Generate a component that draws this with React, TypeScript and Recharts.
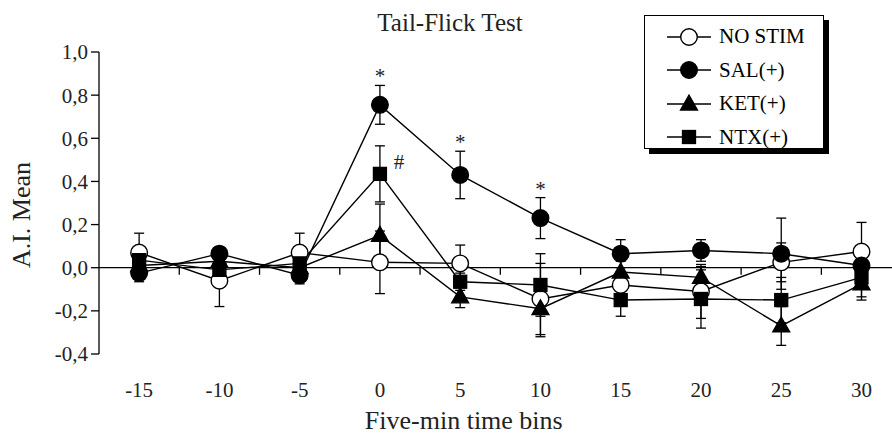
import React from "react";
import {
  LineChart,
  Line,
  XAxis,
  YAxis,
  ErrorBar,
  ReferenceLine,
  Legend,
  LabelList,
  Label,
} from "recharts";

const FONT = "'Liberation Serif', 'Times New Roman', serif";

// five-minute bins
const bins = [-15, -10, -5, 0, 5, 10, 15, 20, 25, 30];
const yTicks = [-0.4, -0.2, 0, 0.2, 0.4, 0.6, 0.8, 1.0];
const midTicks = [-12.5, -7.5, -2.5, 2.5, 7.5, 12.5, 17.5, 22.5, 27.5];

const noStim = [0.07, -0.06, 0.07, 0.025, 0.02, -0.145, -0.08, -0.11, 0.025, 0.075];
const noStimErr = [0.09, 0.12, 0.09, 0.145, 0.085, 0.165, 0.06, 0.125, 0.09, 0.135];

const sal = [-0.025, 0.065, -0.035, 0.755, 0.43, 0.23, 0.065, 0.08, 0.065, 0.01];
const salErr = [0.04, 0.03, 0.04, 0.09, 0.11, 0.095, 0.065, 0.05, 0.165, 0.05];

const ket = [0.01, 0.03, 0.0, 0.15, -0.135, -0.19, -0.02, -0.045, -0.27, -0.075];
const ketErr = [0.03, 0.03, 0.03, 0.145, 0.05, 0.13, 0.05, 0.05, 0.09, 0.075];

const ntx = [0.035, -0.01, 0.02, 0.435, -0.065, -0.08, -0.15, -0.145, -0.15, -0.045];
const ntxErr = [0.03, 0.03, 0.03, 0.13, 0.04, 0.145, 0.075, 0.135, 0.105, 0.09];

// significance marks
const salNote = ["", "", "", "*", "*", "*", "", "", "", ""];
const ntxNote = ["", "", "", "#", "", "", "", "", "", ""];

const series = [
  { key: "noStim", name: "NO STIM", shape: "circle", fill: "#fff" },
  { key: "sal", name: "SAL(+)", shape: "circle", fill: "#000" },
  { key: "ket", name: "KET(+)", shape: "triangle", fill: "#000" },
  { key: "ntx", name: "NTX(+)", shape: "square", fill: "#000" },
];

const data = bins.map((t, i) => ({
  t,
  noStim: noStim[i],
  sal: sal[i],
  ket: ket[i],
  ntx: ntx[i],
  noStimErr: noStimErr[i],
  salErr: salErr[i],
  ketErr: ketErr[i],
  ntxErr: ntxErr[i],
  salTop: salNote[i] ? sal[i] + salErr[i] : null,
  salNote: salNote[i],
  ntxNote: ntxNote[i],
}));

function Marker({ cx, cy, shape, fill }: any) {
  if (cx == null || cy == null) return null;
  if (shape === "triangle") {
    return (
      <polygon
        points={`${cx},${cy - 9} ${cx - 8.5},${cy + 6} ${cx + 8.5},${cy + 6}`}
        fill={fill}
        stroke="#000"
        strokeWidth={1.3}
      />
    );
  }
  if (shape === "square") {
    return (
      <rect x={cx - 6.5} y={cy - 6.5} width={13} height={13} fill={fill} stroke="#000" strokeWidth={1.3} />
    );
  }
  return <circle cx={cx} cy={cy} r={8.3} fill={fill} stroke="#000" strokeWidth={1.4} />;
}

function LegendBox() {
  return (
    <div
      style={{
        width: 180,
        height: 134,
        border: "1px solid #000",
        background: "#fff",
        boxShadow: "5px 5px 0 #000",
        boxSizing: "border-box",
        paddingTop: 4,
      }}
    >
      {series.map((s) => (
        <div key={s.key} style={{ display: "flex", alignItems: "center", height: 33.5 }}>
          <svg width={72} height={24} style={{ marginLeft: 0 }}>
            <line x1={22} y1={12} x2={66} y2={12} stroke="#000" strokeWidth={1.4} />
            <Marker cx={44} cy={12} shape={s.shape} fill={s.fill} />
          </svg>
          <span style={{ fontFamily: FONT, fontSize: 21, color: "#000", marginLeft: 2 }}>{s.name}</span>
        </div>
      ))}
    </div>
  );
}

export default function App() {
  return (
    <div style={{ width: 892, height: 444, background: "#fff", position: "relative" }}>
      <style>{"body{margin:0}"}</style>
      <LineChart
        width={892}
        height={444}
        data={data}
        margin={{ top: 52, right: 0, left: 0, bottom: 0 }}
      >
        <text x={450} y={22} textAnchor="middle" dominantBaseline="central" fontFamily={FONT} fontSize={25} fill="#222">
          Tail-Flick Test
        </text>
        <XAxis
          dataKey="t"
          type="number"
          domain={[-17.5, 31.9]}
          ticks={bins}
          interval={0}
          allowDataOverflow
          axisLine={false}
          tickLine={false}
          tickSize={6}
          tickMargin={22}
          height={90}
          tick={{ fill: "#222", fontSize: 21, fontFamily: FONT }}
        >
          <Label
            content={({ viewBox }: any) => (
              <text
                x={viewBox.x + viewBox.width * 0.46}
                y={viewBox.y + 66}
                textAnchor="middle"
                dominantBaseline="central"
                fontFamily={FONT}
                fontSize={26}
                fill="#222"
              >
                Five-min time bins
              </text>
            )}
          />
        </XAxis>
        <YAxis
          width={99}
          domain={[-0.4, 1.0]}
          ticks={yTicks}
          interval={0}
          tickSize={8}
          tickMargin={3}
          axisLine={{ stroke: "#000", strokeWidth: 1.3 }}
          tickLine={{ stroke: "#000", strokeWidth: 1.3 }}
          tick={{ fill: "#222", fontSize: 21, fontFamily: FONT }}
          tickFormatter={(v: number) => v.toFixed(1).replace(".", ",")}
        >
          <Label
            content={() => (
              <text
                x={21}
                y={215}
                transform="rotate(-90 21 215)"
                textAnchor="middle"
                dominantBaseline="central"
                fontFamily={FONT}
                fontSize={26}
                fill="#222"
              >
                A.I. Mean
              </text>
            )}
          />
        </YAxis>
        <ReferenceLine y={0} stroke="#000" strokeWidth={1.3} />
        {midTicks.map((m) => (
          <ReferenceLine
            key={m}
            segment={[
              { x: m, y: 0 },
              { x: m, y: -0.033 },
            ]}
            stroke="#000"
            strokeWidth={1.3}
          />
        ))}

        {/* error bars sit behind every line and marker */}
        {series.map((s) => (
          <Line
            key={s.key + "-err"}
            dataKey={s.key}
            stroke="none"
            dot={false}
            activeDot={false}
            legendType="none"
            isAnimationActive={false}
          >
            <ErrorBar dataKey={s.key + "Err"} direction="y" width={5} stroke="#000" strokeWidth={1.3} />
          </Line>
        ))}

        {series.map((s) => (
          <Line
            key={s.key}
            dataKey={s.key}
            name={s.name}
            type="linear"
            stroke="#000"
            strokeWidth={1.4}
            dot={(p: any) => <Marker key={p.index} cx={p.cx} cy={p.cy} shape={s.shape} fill={s.fill} />}
            activeDot={false}
            isAnimationActive={false}
          >
            {s.key === "ntx" && (
              <LabelList
                dataKey="ntxNote"
                content={(p: any) =>
                  p.value ? (
                    <text x={p.x + 19} y={p.y - 5} textAnchor="middle" fontFamily={FONT} fontSize={21} fill="#222">
                      {p.value}
                    </text>
                  ) : null
                }
              />
            )}
          </Line>
        ))}

        <Line
          dataKey="salTop"
          stroke="none"
          dot={false}
          activeDot={false}
          legendType="none"
          isAnimationActive={false}
        >
          <LabelList
            dataKey="salNote"
            content={(p: any) =>
              p.value ? (
                <text x={p.x} y={p.y - 2} textAnchor="middle" fontFamily={FONT} fontSize={21} fill="#222">
                  {p.value}
                </text>
              ) : null
            }
          />
        </Line>

        <Legend
          layout="vertical"
          align="center"
          verticalAlign="middle"
          content={() => <LegendBox />}
          wrapperStyle={{ left: 644, top: 15, width: 186, height: 140 }}
        />
      </LineChart>
    </div>
  );
}
